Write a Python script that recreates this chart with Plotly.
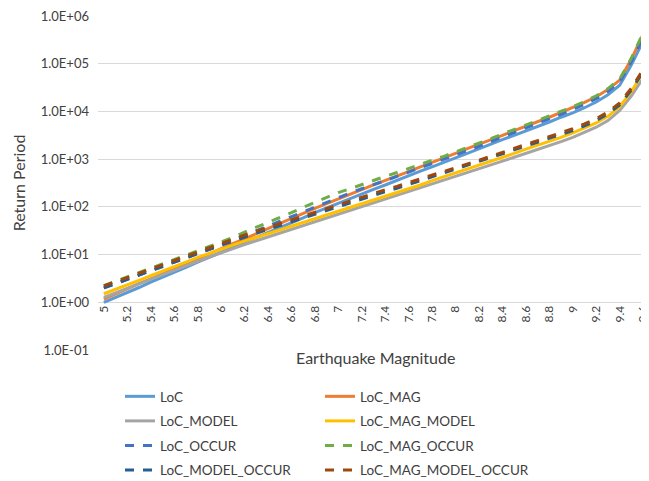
import plotly.graph_objects as go

magnitudes = [5.0, 5.1, 5.2, 5.3, 5.4, 5.5, 5.6, 5.7, 5.8, 5.9,
              6.0, 6.1, 6.2, 6.3, 6.4, 6.5, 6.6, 6.7, 6.8, 6.9,
              7.0, 7.1, 7.2, 7.3, 7.4, 7.5, 7.6, 7.7, 7.8, 7.9,
              8.0, 8.1, 8.2, 8.3, 8.4, 8.5, 8.6, 8.7, 8.8, 8.9,
              9.0, 9.1, 9.2, 9.3, 9.4, 9.5, 9.6]

loc = [1.00, 1.26, 1.62, 2.04, 2.63, 3.31, 4.27, 5.37, 6.92, 8.71,
       11.2, 14.1, 18.2, 22.9, 28.8, 37.2, 46.8, 58.9, 75.9, 95.5,
       120, 151, 186, 234, 288, 363, 447, 562, 692, 871,
       1070, 1320, 1660, 2040, 2570, 3160, 3890, 4900, 6030, 7590,
       9330, 12000, 15800, 22400, 35500, 95500, 302000]

loc_mag = [1.17, 1.51, 1.91, 2.45, 3.09, 3.98, 5.01, 6.46, 8.13, 10.5,
           13.2, 17.0, 21.4, 27.5, 34.7, 44.7, 56.2, 72.4, 93.3, 117,
           148, 186, 229, 288, 355, 447, 550, 692, 851, 1070,
           1320, 1660, 2040, 2570, 3160, 3980, 4900, 6170, 7590, 9550,
           12000, 15500, 20400, 28800, 45700, 126000, 417000]

loc_model = [1.26, 1.58, 1.95, 2.45, 3.02, 3.80, 4.68, 5.89, 7.24, 8.91,
             11.0, 13.5, 16.2, 19.5, 23.4, 28.2, 33.9, 40.7, 47.9, 57.5,
             69.2, 83.2, 100, 120, 145, 174, 204, 245, 295, 355,
             427, 513, 617, 741, 912, 1100, 1320, 1620, 1950, 2340,
             2880, 3630, 4680, 6460, 10500, 21400, 50100]

loc_mag_model = [1.51, 1.86, 2.34, 2.88, 3.63, 4.47, 5.62, 6.92, 8.71, 10.7,
                 13.2, 15.8, 19.1, 22.9, 27.5, 33.1, 38.9, 46.8, 56.2, 66.1,
                 79.4, 95.5, 115, 138, 166, 200, 240, 288, 355, 427,
                 513, 617, 741, 912, 1100, 1320, 1620, 1950, 2400, 2880,
                 3550, 4470, 5750, 7940, 12600, 26300, 66100]

loc_occur = [2.00, 2.45, 3.02, 3.72, 4.57, 5.62, 6.92, 8.51, 10.5, 12.9,
             15.8, 20.0, 25.1, 31.6, 39.8, 50.1, 63.1, 79.4, 100, 126,
             158, 195, 240, 288, 355, 437, 537, 646, 794, 977,
             1200, 1510, 1860, 2340, 2880, 3630, 4570, 5620, 7080, 8710,
             11000, 14100, 18600, 26300, 41700, 112000, 355000]

loc_mag_occur = [2.24, 2.75, 3.39, 4.17, 5.13, 6.31, 7.94, 9.77, 12.0, 14.8,
                 18.2, 22.9, 29.5, 37.2, 47.9, 60.3, 75.9, 97.7, 123, 158,
                 200, 240, 295, 355, 437, 525, 646, 776, 955, 1150,
                 1410, 1740, 2190, 2690, 3390, 4170, 5250, 6460, 8130, 10000,
                 12600, 16200, 21400, 30200, 47900, 132000, 447000]

loc_model_occur = [2.00, 2.45, 3.02, 3.72, 4.57, 5.62, 6.92, 8.51, 10.5, 12.9,
                   15.8, 19.5, 23.4, 28.2, 33.9, 40.7, 49.0, 58.9, 70.8, 85.1,
                   102, 123, 145, 174, 209, 245, 295, 355, 427, 501,
                   603, 724, 871, 1050, 1290, 1550, 1860, 2240, 2690, 3310,
                   3980, 5010, 6460, 8910, 13800, 28200, 69200]

loc_mag_model_occur = [2.19, 2.69, 3.31, 4.07, 5.01, 6.17, 7.59, 9.33, 11.5, 14.1,
                       17.4, 21.4, 25.7, 30.9, 37.2, 44.7, 53.7, 64.6, 77.6, 93.3,
                       112, 135, 158, 191, 229, 269, 324, 389, 468, 550,
                       661, 794, 955, 1150, 1410, 1700, 2040, 2450, 2950, 3630,
                       4370, 5500, 7080, 9770, 15100, 30900, 75900]

x_tick_vals = [5.0, 5.2, 5.4, 5.6, 5.8, 6.0, 6.2, 6.4, 6.6, 6.8, 7.0, 7.2,
               7.4, 7.6, 7.8, 8.0, 8.2, 8.4, 8.6, 8.8, 9.0, 9.2, 9.4, 9.6]
x_tick_text = ["5", "5.2", "5.4", "5.6", "5.8", "6", "6.2", "6.4", "6.6", "6.8", "7", "7.2",
               "7.4", "7.6", "7.8", "8", "8.2", "8.4", "8.6", "8.8", "9", "9.2", "9.4", "9.6"]
y_tick_vals = [0.1, 1, 10, 100, 1000, 10000, 100000, 1000000]
y_tick_text = ["1.0E-01", "1.0E+00", "1.0E+01", "1.0E+02", "1.0E+03",
               "1.0E+04", "1.0E+05", "1.0E+06"]

series = [
    ("LoC", loc, "#5B9BD5", "solid", "legend"),
    ("LoC_MAG", loc_mag, "#ED7D31", "solid", "legend2"),
    ("LoC_MODEL", loc_model, "#A5A5A5", "solid", "legend"),
    ("LoC_MAG_MODEL", loc_mag_model, "#FFC000", "solid", "legend2"),
    ("LoC_OCCUR", loc_occur, "#4472C4", "dash", "legend"),
    ("LoC_MAG_OCCUR", loc_mag_occur, "#70AD47", "dash", "legend2"),
    ("LoC_MODEL_OCCUR", loc_model_occur, "#255E91", "dash", "legend"),
    ("LoC_MAG_MODEL_OCCUR", loc_mag_model_occur, "#9E480E", "dash", "legend2"),
]

FONT = "Lato, 'Open Sans', sans-serif"
TXT = "#404040"

fig = go.Figure()
for i, (name, vals, color, dash, leg) in enumerate(series):
    fig.add_trace(go.Scatter(
        x=magnitudes, y=vals, name=name, mode="lines",
        line=dict(color=color, width=3, dash=dash),
        legend=leg, legendgroup=name,
    ))

# the page body adds an 8px offset; figure coordinates = screen - 8
W, H = 649, 481
ml, mr, mt, mb = 90, 8, 8, 139
PW = W - ml - mr

legend_common = dict(
    orientation="v", yanchor="top", xanchor="left", y=-0.093,
    font=dict(family=FONT, size=13.5, color=TXT), bgcolor="rgba(0,0,0,0)",
    tracegroupgap=4, itemwidth=30,
)

fig.update_layout(
    width=W, height=H,
    margin=dict(l=ml, r=mr, t=mt, b=mb, autoexpand=False),
    paper_bgcolor="white", plot_bgcolor="white",
    font=dict(family=FONT, color=TXT),
    xaxis=dict(
        range=[4.95, 9.65], tickmode="array", tickvals=x_tick_vals, ticktext=x_tick_text,
        tickangle=-90, showgrid=False, zeroline=False, showline=False, ticks="",
        anchor="free", position=1 / 7, automargin=False, ticklabeloverflow="allow",
        tickfont=dict(family=FONT, size=12, color=TXT),
    ),
    yaxis=dict(
        type="log", range=[-1.001, 6.003], tickmode="array", tickvals=y_tick_vals, ticktext=y_tick_text,
        showgrid=True, gridcolor="#D9D9D9", gridwidth=1, zeroline=False, showline=False,
        ticks="", ticklabelstandoff=8, automargin=False, ticklabeloverflow="allow",
        tickfont=dict(family=FONT, size=13, color=TXT),
        title=dict(text="Return Period", font=dict(family=FONT, size=16, color=TXT), standoff=11),
    ),
    legend=dict(x=(112 - ml) / PW, **legend_common),
    legend2=dict(x=(312 - ml) / PW, **legend_common),
    annotations=[dict(
        text="Earthquake Magnitude", xref="paper", yref="paper",
        x=0.503, y=-0.022, xanchor="center", yanchor="middle", showarrow=False,
        font=dict(family=FONT, size=16, color=TXT),
    )],
)

fig.write_html("out.html")
